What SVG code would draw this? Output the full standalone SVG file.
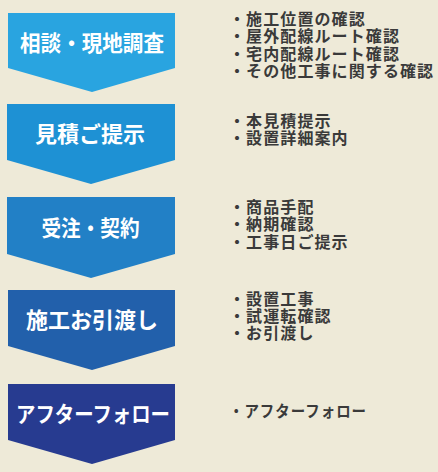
<svg xmlns="http://www.w3.org/2000/svg" width="438" height="472" viewBox="0 0 438 472">
<style>
.lbl{font-family:"Noto Sans CJK JP","Noto Sans",sans-serif;font-size:22px;font-weight:bold;fill:#ffffff;text-anchor:middle}
.note{font-family:"Noto Sans CJK JP","Noto Sans",sans-serif;font-size:16px;letter-spacing:1.1px;font-weight:bold;fill:#3a3a3a}
</style>
<rect width="438" height="472" fill="#EEEAD8"/>
<g id="connectors"></g>
<g id="step1">
<polygon points="8,13 175,13 175,68 92,92 8,68" fill="#29A4E0"/>
<text class="lbl" x="92" y="51" textLength="144" lengthAdjust="spacingAndGlyphs">相談・現地調査</text>
</g>
<g id="step2">
<polygon points="7,104 175,104 175,160 91,184 7,160" fill="#1E91D4"/>
<text class="lbl" x="90" y="142">見積ご提示</text>
</g>
<g id="step3">
<polygon points="7,197 175,197 175,254 91,278 7,254" fill="#2280C6"/>
<text class="lbl" x="90.5" y="236" textLength="98" lengthAdjust="spacingAndGlyphs">受注・契約</text>
</g>
<g id="step4">
<polygon points="8,290 175,290 175,346 92,370 8,346" fill="#2260AB"/>
<text class="lbl" x="92" y="328">施工お引渡し</text>
</g>
<g id="step5">
<polygon points="8,384 175,384 175,440 92,464 8,440" fill="#273B90"/>
<text class="lbl" x="93" y="422" textLength="154" lengthAdjust="spacingAndGlyphs">アフターフォロー</text>
</g>
<g id="notes1">
<text class="note" x="229" y="25">・施工位置の確認</text>
<text class="note" x="229" y="42.3">・屋外配線ルート確認</text>
<text class="note" x="229" y="59.5">・宅内配線ルート確認</text>
<text class="note" x="229" y="76.7">・その他工事に関する確認</text>
</g>
<g id="notes2">
<text class="note" x="229" y="127">・本見積提示</text>
<text class="note" x="229" y="144.3">・設置詳細案内</text>
</g>
<g id="notes3">
<text class="note" x="229" y="213">・商品手配</text>
<text class="note" x="229" y="230.3">・納期確認</text>
<text class="note" x="229" y="247.6">・工事日ご提示</text>
</g>
<g id="notes4">
<text class="note" x="229" y="304.5">・設置工事</text>
<text class="note" x="229" y="321.8">・試運転確認</text>
<text class="note" x="229" y="339">・お引渡し</text>
</g>
<g id="notes5">
<text class="note" x="229" y="417" textLength="138" lengthAdjust="spacingAndGlyphs">・アフターフォロー</text>
</g>
</svg>
